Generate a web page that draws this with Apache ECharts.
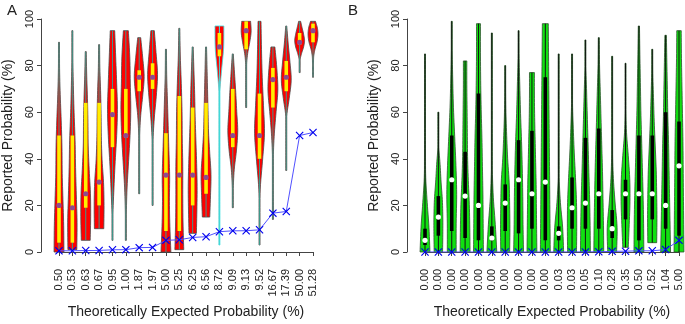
<!DOCTYPE html>
<html>
<head>
<meta charset="utf-8">
<script src="https://cdn.jsdelivr.net/npm/echarts@6/dist/echarts.min.js"></script>
<style>
  html, body { margin: 0; padding: 0; background: #fff; }
  #chart { width: 685px; height: 324px; }
</style>
</head>
<body>
<div id="chart"></div>
<script>
// panel A: theoretically expected probabilities (x labels and blue markers)
const labelsA = ['0.50', '0.53', '0.63', '0.67', '0.95', '1.00', '1.87', '1.97', '5.00', '5.25',
  '6.25', '6.56', '8.72', '9.09', '9.13', '9.52', '16.67', '17.39', '50.00', '51.28']
const expectedA = [0.5, 0.53, 0.63, 0.67, 0.95, 1.0, 1.87, 1.97, 5.0, 5.25,
  6.25, 6.56, 8.72, 9.09, 9.13, 9.52, 16.67, 17.39, 50.0, 51.28]
// violin summary: [min, max, q1, median, q3]
const statsA = [
  [0, 90, 4, 20, 50], [1, 95, 4, 19, 50], [5, 86, 19, 25, 64], [10, 89, 20, 30, 64],
  [5, 95, 45, 59, 70], [5, 95, 49, 50, 70], [25, 92, 69, 75, 78], [20, 95, 70, 75, 81],
  [0, 87, 9, 33, 51], [1, 96, 9, 33, 67], [8, 88, 20, 33, 62], [15, 88, 25, 32, 64],
  [3, 97, 84, 88, 94], [19, 85, 45, 50, 70], [62, 99, 87, 95, 99], [3, 99, 40, 50, 68],
  [14, 88, 62, 74, 79], [35, 97, 69, 75, 82], [77, 99, 89, 90, 94], [75, 99, 90, 95, 98]
]
// relative density, sampled evenly from min to max
const densA = [
  [1.0, 0.95, 0.8, 0.65, 0.6, 0.45, 0.25, 0.12, 0.04],
  [0.9, 0.95, 0.8, 0.65, 0.55, 0.35, 0.2, 0.08, 0.03],
  [0.9, 1.0, 0.95, 0.7, 0.5, 0.45, 0.35, 0.2, 0.05],
  [0.95, 1.0, 0.9, 0.6, 0.45, 0.4, 0.3, 0.15, 0.04],
  [0.05, 0.1, 0.3, 0.55, 0.85, 1.0, 0.85, 0.65, 0.45],
  [0.05, 0.08, 0.25, 0.55, 0.85, 1.0, 0.9, 0.8, 0.5],
  [0.02, 0.03, 0.05, 0.1, 0.3, 0.7, 1.0, 0.7, 0.3],
  [0.02, 0.03, 0.05, 0.1, 0.35, 0.75, 1.0, 0.7, 0.35],
  [1.0, 0.8, 0.7, 0.75, 0.6, 0.45, 0.3, 0.15, 0.04],
  [0.9, 0.75, 0.7, 0.7, 0.6, 0.55, 0.4, 0.2, 0.05],
  [0.75, 0.85, 0.9, 0.8, 0.65, 0.5, 0.4, 0.25, 0.05],
  [0.75, 0.9, 1.0, 0.75, 0.5, 0.4, 0.3, 0.2, 0.05],
  [0.01, 0.01, 0.01, 0.01, 0.01, 0.01, 0.02, 0.1, 0.45, 0.85, 0.9],
  [0.02, 0.08, 0.3, 0.75, 1.0, 0.8, 0.6, 0.35, 0.08],
  [0.01, 0.02, 0.03, 0.05, 0.1, 0.3, 0.7, 1.0, 0.9],
  [0.01, 0.02, 0.15, 0.6, 1.0, 0.8, 0.55, 0.4, 0.3],
  [0.01, 0.01, 0.02, 0.1, 0.3, 0.65, 1.0, 0.8, 0.4],
  [0.01, 0.01, 0.02, 0.1, 0.6, 1.0, 0.75, 0.4, 0.1],
  [0.01, 0.03, 0.1, 0.4, 0.8, 1.0, 0.8, 0.5, 0.2],
  [0.01, 0.02, 0.05, 0.15, 0.4, 0.8, 1.0, 0.9, 0.5]
]

// panel B
const labelsB = ['0.00', '0.00', '0.00', '0.00', '0.00', '0.00', '0.00', '0.00', '0.00', '0.00',
  '0.03', '0.03', '0.05', '0.10', '0.28', '0.35', '0.50', '0.52', '1.04', '5.00']
const expectedB = [0, 0, 0, 0, 0, 0, 0, 0, 0, 0,
  0.03, 0.03, 0.05, 0.1, 0.28, 0.35, 0.5, 0.52, 1.04, 5.0]
const statsB = [
  [0, 85, 3, 5, 10], [0, 60, 7, 15, 24], [0, 99, 9, 31, 50], [0, 82, 6, 24, 43],
  [0, 98, 5, 20, 68], [0, 94, 5, 6, 11], [0, 80, 9, 21, 29], [0, 95, 8, 31, 48],
  [0, 77, 10, 25, 52], [0, 98, 5, 30, 75], [0, 85, 5, 8, 11], [0, 85, 10, 19, 32],
  [0, 91, 10, 21, 49], [0, 92, 10, 25, 53], [0, 84, 6, 10, 18], [2, 81, 14, 25, 31],
  [0, 97, 5, 25, 50], [4, 87, 14, 25, 50], [0, 93, 10, 20, 60], [0, 95, 7, 37, 56]
]
const densB = [
  [1.0, 0.8, 0.45, 0.15, 0.05, 0.02, 0.02, 0.01, 0.01],
  [0.85, 0.9, 0.9, 0.8, 0.55, 0.35, 0.1, 0.03, 0.01],
  [0.9, 0.9, 1.0, 0.85, 0.6, 0.35, 0.2, 0.08, 0.02],
  [1.0, 0.95, 0.85, 0.65, 0.5, 0.45, 0.4, 0.35, 0.35],
  [1.0, 0.95, 0.9, 0.8, 0.7, 0.55, 0.45, 0.4, 0.4],
  [1.0, 0.7, 0.3, 0.05, 0.02, 0.01, 0.01, 0.01, 0.01],
  [0.9, 0.95, 0.9, 0.8, 0.5, 0.3, 0.15, 0.05, 0.02],
  [1.0, 0.9, 0.85, 0.75, 0.6, 0.4, 0.25, 0.12, 0.03],
  [1.0, 0.95, 0.9, 0.85, 0.75, 0.65, 0.55, 0.5, 0.5],
  [1.0, 0.95, 0.9, 0.85, 0.8, 0.75, 0.7, 0.65, 0.6],
  [1.0, 0.8, 0.35, 0.08, 0.02, 0.01, 0.01, 0.01, 0.01],
  [0.9, 0.95, 0.9, 0.7, 0.45, 0.25, 0.1, 0.05, 0.02],
  [1.0, 0.95, 0.85, 0.7, 0.55, 0.4, 0.25, 0.1, 0.03],
  [1.0, 0.95, 0.85, 0.75, 0.6, 0.45, 0.3, 0.15, 0.05],
  [0.9, 1.0, 0.6, 0.25, 0.05, 0.02, 0.01, 0.01, 0.01],
  [0.55, 0.75, 0.9, 0.85, 0.55, 0.2, 0.06, 0.03, 0.02],
  [1.0, 0.95, 0.85, 0.7, 0.55, 0.4, 0.3, 0.2, 0.12],
  [0.9, 0.95, 0.9, 0.8, 0.6, 0.4, 0.25, 0.12, 0.04],
  [1.0, 0.9, 0.8, 0.7, 0.6, 0.45, 0.35, 0.25, 0.15],
  [1.0, 0.95, 0.9, 0.85, 0.8, 0.7, 0.6, 0.5, 0.45]
]

const xMark = 'path://M0,1L1,0L5,4L9,0L10,1L6,5L10,9L9,10L5,6L1,10L0,9L4,5Z'
const font = 'Liberation Sans, Arial, sans-serif'

// catmull-rom through the pixel points of one violin side, so the outline is smooth
// but the flat min/max ends stay flat
function smoothSide(pts, steps) {
  const out = []
  for (let k = 0; k < pts.length - 1; k++) {
    const p0 = pts[Math.max(k - 1, 0)], p1 = pts[k], p2 = pts[k + 1], p3 = pts[Math.min(k + 2, pts.length - 1)]
    for (let s = 0; s < steps; s++) {
      const t = s / steps, t2 = t * t, t3 = t2 * t
      const f = (a, b, c, d) => 0.5 * (2 * b + (-a + c) * t + (2 * a - 5 * b + 4 * c - d) * t2 + (-a + 3 * b - 3 * c + d) * t3)
      out.push([f(p0[0], p1[0], p2[0], p3[0]), f(p0[1], p1[1], p2[1], p3[1])])
    }
  }
  out.push(pts[pts.length - 1])
  return out
}

function violinRenderer(dens, sty) {
  return function (params, api) {
    const i = api.value(0)
    const lo = api.value(1), hi = api.value(2)
    const q1 = api.value(3), med = api.value(4), q3 = api.value(5)
    const d = dens[params.dataIndex]
    const band = api.size([1, 0])[0]
    const maxHW = band * 0.37
    const n = d.length
    const side = []
    for (let k = 0; k < n; k++) {
      const v = lo + (hi - lo) * k / (n - 1)
      const p = api.coord([i, v])
      side.push([Math.max(d[k] * maxHW, 0.5), p[1]])
    }
    const cx = api.coord([i, lo])[0]
    const sm = smoothSide(side, 6).map(p => [Math.max(p[0], 0.5), p[1]])
    const right = sm.map(p => [cx + p[0], p[1]])
    const left = sm.map(p => [cx - p[0], p[1]]).reverse()
    const pLo = api.coord([i, lo]), pHi = api.coord([i, hi])
    const pQ1 = api.coord([i, q1]), pQ3 = api.coord([i, q3]), pMed = api.coord([i, med])
    const special = sty.special && sty.special[params.dataIndex]
    const edge = special || sty.border
    return {
      type: 'group',
      children: [
        {
          type: 'polygon',
          shape: { points: right.concat(left) },
          style: { fill: sty.fill, stroke: edge, lineWidth: 0.8 }
        },
        {
          type: 'line',
          shape: { x1: pLo[0], y1: pLo[1], x2: pHi[0], y2: pHi[1] },
          style: { stroke: special || sty.whisker, lineWidth: 1 }
        },
        {
          type: 'rect',
          shape: { x: pQ3[0] - 1.8, y: pQ3[1], width: 3.6, height: pQ1[1] - pQ3[1] },
          style: { fill: sty.box }
        },
        {
          type: 'circle',
          shape: { cx: pMed[0], cy: pMed[1], r: 2.6 },
          style: { fill: sty.median }
        }
      ]
    }
  }
}

function xAxisFor(idx, labels) {
  return {
    type: 'category', gridIndex: idx, data: labels, boundaryGap: false, offset: 10,
    axisLine: { lineStyle: { color: '#444', width: 1 } },
    axisTick: { show: true, length: 4, interval: 0, lineStyle: { color: '#444' } },
    axisLabel: { rotate: 90, interval: 0, fontSize: 11, color: '#222', margin: 7, fontFamily: font },
    name: 'Theoretically Expected Probability (%)', nameLocation: 'middle', nameGap: 43,
    nameTextStyle: { fontSize: 14, color: '#222', fontFamily: font }
  }
}

function yAxisFor(idx) {
  return {
    type: 'value', gridIndex: idx, min: 0, max: 100, interval: 20, offset: 18,
    axisLine: { show: true, lineStyle: { color: '#444', width: 1 } },
    axisTick: { show: true, length: 4, lineStyle: { color: '#444' } },
    axisLabel: { rotate: 90, fontSize: 11, color: '#222', margin: 6, fontFamily: font },
    splitLine: { show: false },
    name: 'Reported Probability (%)', nameLocation: 'middle', nameGap: 26,
    nameTextStyle: { fontSize: 14, color: '#222', fontFamily: font }
  }
}

const chart = echarts.init(document.getElementById('chart'), null, { renderer: 'canvas' })

chart.setOption({
  animation: false,
  title: [
    { text: 'A', left: 2, top: -2, textStyle: { fontSize: 15, fontWeight: 'normal', color: '#222', fontFamily: font } },
    { text: 'B', left: 343, top: -2, textStyle: { fontSize: 15, fontWeight: 'normal', color: '#222', fontFamily: font } }
  ],
  grid: [
    { left: 58, width: 255, top: 19, height: 240 },
    { left: 425, width: 254, top: 19, height: 240 }
  ],
  xAxis: [xAxisFor(0, labelsA), xAxisFor(1, labelsB)],
  yAxis: [yAxisFor(0), yAxisFor(1)],
  series: [
    {
      type: 'custom', xAxisIndex: 0, yAxisIndex: 0,
      renderItem: violinRenderer(densA, {
        fill: '#ff0000', border: '#4a4a4a', whisker: '#3c9a8c', box: '#ffee00', median: '#8e4b8e',
        special: { 12: '#3de0e0' }
      }),
      encode: { x: 0, y: [1, 2] },
      data: statsA.map((s, i) => [i].concat(s))
    },
    {
      type: 'line', xAxisIndex: 0, yAxisIndex: 0, data: expectedA,
      symbol: xMark, symbolSize: 8, showSymbol: true,
      lineStyle: { color: '#5050ff', width: 1 },
      itemStyle: { color: '#0000ee' }, z: 5
    },
    {
      type: 'custom', xAxisIndex: 1, yAxisIndex: 1,
      renderItem: violinRenderer(densB, {
        fill: '#11e011', border: '#2f4f2f', whisker: '#111', box: '#000', median: '#fff'
      }),
      encode: { x: 0, y: [1, 2] },
      data: statsB.map((s, i) => [i].concat(s))
    },
    {
      type: 'line', xAxisIndex: 1, yAxisIndex: 1, data: expectedB,
      symbol: xMark, symbolSize: 8, showSymbol: true,
      lineStyle: { color: '#5050ff', width: 1 },
      itemStyle: { color: '#0000ee' }, z: 5
    }
  ]
})

window.addEventListener('resize', () => chart.resize())
</script>
</body>
</html>
